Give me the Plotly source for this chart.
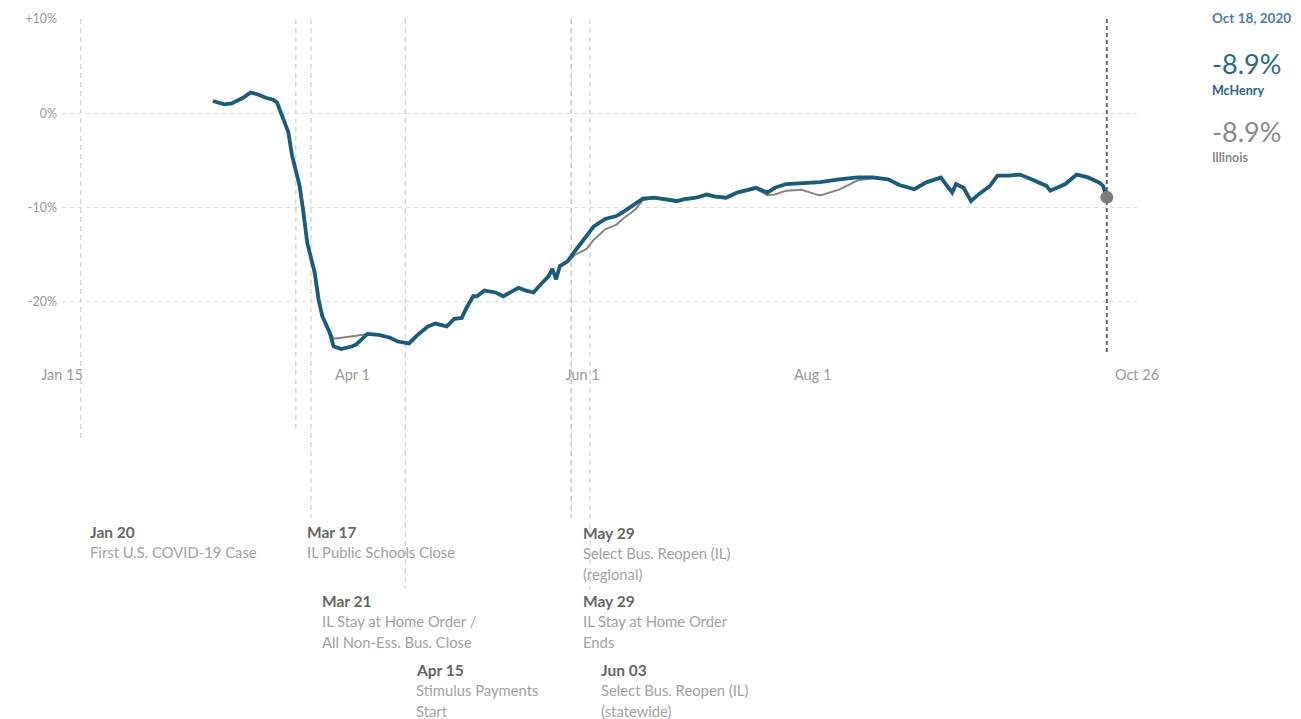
import plotly.graph_objects as go

# ---------------- data ----------------
dates = ['2020-02-24','2020-02-27','2020-02-29',
 '2020-03-03','2020-03-05','2020-03-07','2020-03-09','2020-03-11','2020-03-12','2020-03-13','2020-03-15','2020-03-16','2020-03-18','2020-03-19','2020-03-20','2020-03-22','2020-03-23','2020-03-24','2020-03-26','2020-03-27','2020-03-29',
 '2020-04-01','2020-04-02','2020-04-05','2020-04-08','2020-04-11','2020-04-13','2020-04-16','2020-04-18','2020-04-21','2020-04-23','2020-04-26','2020-04-28','2020-04-30',
 '2020-05-01','2020-05-03','2020-05-04','2020-05-06','2020-05-09','2020-05-11','2020-05-13','2020-05-15','2020-05-17','2020-05-19','2020-05-21','2020-05-23','2020-05-24','2020-05-25','2020-05-26','2020-05-28','2020-05-30',
 '2020-06-02','2020-06-04','2020-06-07','2020-06-10','2020-06-12','2020-06-15','2020-06-17','2020-06-20','2020-06-23','2020-06-26','2020-06-28',
 '2020-07-01','2020-07-04','2020-07-06','2020-07-09','2020-07-12','2020-07-14','2020-07-17','2020-07-20','2020-07-22','2020-07-25','2020-07-29',
 '2020-08-02','2020-08-03','2020-08-08','2020-08-13','2020-08-17','2020-08-21','2020-08-24','2020-08-28','2020-08-31',
 '2020-09-04','2020-09-05','2020-09-07','2020-09-08','2020-09-10','2020-09-12','2020-09-14','2020-09-17','2020-09-19','2020-09-22','2020-09-25','2020-09-28',
 '2020-10-02','2020-10-03','2020-10-07','2020-10-10','2020-10-13','2020-10-16','2020-10-17','2020-10-18']

mchenry = [1.3,0.95,1.05,
 1.65,2.2,2.0,1.65,1.45,1.15,0.1,-2.0,-4.5,-7.7,-10.5,-13.7,-16.9,-19.7,-21.5,-23.3,-24.7,-25.0,
 -24.7,-24.5,-23.4,-23.5,-23.8,-24.2,-24.4,-23.6,-22.6,-22.3,-22.6,-21.8,-21.7,
 -20.8,-19.4,-19.4,-18.8,-19.0,-19.4,-19.0,-18.5,-18.8,-19.0,-18.1,-17.3,-16.5,-17.6,-16.2,-15.7,-14.6,
 -13.1,-12.0,-11.2,-10.9,-10.4,-9.65,-9.05,-8.95,-9.1,-9.3,-9.1,
 -8.95,-8.6,-8.8,-8.95,-8.4,-8.2,-7.9,-8.4,-7.9,-7.5,-7.4,
 -7.35,-7.3,-7.0,-6.8,-6.8,-7.0,-7.6,-8.05,-7.35,
 -6.8,-7.35,-8.4,-7.5,-7.9,-9.3,-8.6,-7.7,-6.6,-6.6,-6.5,-7.0,
 -7.7,-8.2,-7.5,-6.5,-6.8,-7.35,-7.7,-8.9]

illinois = [1.3,0.95,1.05,
 1.65,2.2,2.0,1.65,1.45,1.15,0.1,-2.0,-4.5,-7.7,-10.5,-13.7,-16.9,-19.7,-21.5,-23.1,-23.9,-23.8,
 -23.7,-23.6,-23.4,-23.5,-23.8,-24.2,-24.4,-23.6,-22.6,-22.3,-22.6,-21.8,-21.7,
 -20.8,-19.4,-19.4,-18.8,-19.0,-19.4,-19.0,-18.5,-18.8,-19.0,-18.1,-17.3,-16.6,-17.6,-16.3,-15.8,-15.0,
 -14.4,-13.4,-12.3,-11.8,-11.1,-10.2,-9.2,-9.0,-9.2,-9.4,-9.2,
 -9.0,-8.7,-8.9,-9.0,-8.5,-8.3,-8.0,-8.7,-8.6,-8.2,-8.1,
 -8.6,-8.7,-8.1,-7.1,-6.9,-7.0,-7.6,-8.05,-7.35,
 -6.8,-7.3,-8.2,-7.6,-7.9,-9.3,-8.6,-7.7,-6.6,-6.6,-6.5,-7.0,
 -7.7,-8.2,-7.5,-6.5,-6.8,-7.35,-7.7,-8.9]

latest_date = '2020-10-18'
latest_label = 'Oct 18, 2020'
latest_mchenry = '-8.9%'
latest_illinois = '-8.9%'

x_tick_vals = ['2020-01-15', '2020-04-01', '2020-06-01', '2020-08-01', '2020-10-26']
x_tick_text = ['Jan 15', 'Apr 1', 'Jun 1', 'Aug 1', 'Oct 26']
y_tick_vals = [10, 0, -10, -20]
y_tick_text = ['+10%', '0%', '-10%', '-20%']

event_dates = ['2020-01-20', '2020-03-17', '2020-03-21', '2020-04-15', '2020-05-29', '2020-05-29', '2020-06-03']
event_titles = ['Jan 20', 'Mar 17', 'Mar 21', 'Apr 15', 'May 29', 'May 29', 'Jun 03']
event_texts = [['First U.S. COVID-19 Case'],
               ['IL Public Schools Close'],
               ['IL Stay at Home Order /', 'All Non-Ess. Bus. Close'],
               ['Stimulus Payments', 'Start'],
               ['Select Bus. Reopen (IL)', '(regional)'],
               ['IL Stay at Home Order', 'Ends'],
               ['Select Bus. Reopen (IL)', '(statewide)']]

# ---------------- layout helpers (page pixels) ----------------
W, H = 1301, 719
PLOT_L, PLOT_R, PLOT_T, PLOT_B = 62, 1137, 19, 362
ML, MT = PLOT_L, PLOT_T
MR, MB = W - PLOT_R, H - PLOT_B
PW = PLOT_R - PLOT_L
PH = PLOT_B - PLOT_T

def pyp(p):
    return (PLOT_B - p) / PH

def pxp(p):
    return (p - PLOT_L) / PW

event_line_end = [438, 433, 518, 588, 518, 518, 590]
event_head_y = [532, 532, 601, 670, 533, 601, 670]
event_xshift = [7, 9, 9, 9, 10, 10, 9]

FONT = 'Lato'
BLUE = '#1b5b7b'
GRAY = '#8a8482'

fig = go.Figure()

fig.add_trace(go.Scatter(x=dates, y=illinois, mode='lines', name='Illinois',
                         line=dict(color=GRAY, width=2), hoverinfo='skip'))
fig.add_trace(go.Scatter(x=dates, y=mchenry, mode='lines', name='McHenry',
                         line=dict(color=BLUE, width=3.8), hoverinfo='skip'))
fig.add_trace(go.Scatter(x=[latest_date], y=[mchenry[-1]], mode='markers',
                         marker=dict(color='#7d7d7d', size=13), hoverinfo='skip'))

shapes = []
for d, yend in zip(event_dates, event_line_end):
    shapes.append(dict(type='line', xref='x', yref='paper', x0=d, x1=d,
                       y0=1, y1=pyp(yend), layer='below',
                       line=dict(color='#c4c4c4', width=1, dash='5px,4px')))
shapes.append(dict(type='line', xref='x', yref='paper', x0=latest_date, x1=latest_date,
                   y0=1, y1=pyp(355), layer='below',
                   line=dict(color='#6a6a6a', width=2, dash='4px,3px')))

annotations = []
for d, title, lines, hy, xs in zip(event_dates, event_titles, event_texts, event_head_y, event_xshift):
    annotations.append(dict(x=d, xref='x', y=pyp(hy), yref='paper', text='<b>' + title + '</b>',
                            xanchor='left', yanchor='middle', xshift=xs, showarrow=False,
                            font=dict(family=FONT, size=15.5, color='#666666')))
    for i, t in enumerate(lines):
        annotations.append(dict(x=d, xref='x', y=pyp(hy + 20 + 21 * i), yref='paper', text=t,
                                xanchor='left', yanchor='middle', xshift=xs, showarrow=False,
                                font=dict(family=FONT, size=14.8, color='#a2a2a2')))

RX = pxp(1210)
annotations += [
    dict(x=RX, xref='paper', y=pyp(18), yref='paper', text='<b>' + latest_label + '</b>',
         xanchor='left', yanchor='middle', showarrow=False,
         font=dict(family=FONT, size=13.5, color='#4d7f9d')),
    dict(x=RX, xref='paper', y=pyp(64), yref='paper', text=latest_mchenry,
         xanchor='left', yanchor='middle', showarrow=False,
         font=dict(family=FONT, size=27, color='#2b6789')),
    dict(x=RX, xref='paper', y=pyp(90), yref='paper', text='<b>McHenry</b>',
         xanchor='left', yanchor='middle', showarrow=False,
         font=dict(family=FONT, size=12.5, color='#2b6789')),
    dict(x=RX, xref='paper', y=pyp(131), yref='paper', text=latest_illinois,
         xanchor='left', yanchor='middle', showarrow=False,
         font=dict(family=FONT, size=27, color='#8a8a8a')),
    dict(x=RX, xref='paper', y=pyp(157), yref='paper', text='<b>Illinois</b>',
         xanchor='left', yanchor='middle', showarrow=False,
         font=dict(family=FONT, size=12.5, color='#8a8a8a')),
]

fig.update_layout(
    width=W, height=H,
    margin=dict(l=ML, r=MR, t=MT, b=MB, pad=0),
    paper_bgcolor='white', plot_bgcolor='white',
    showlegend=False,
    shapes=shapes, annotations=annotations,
    font=dict(family=FONT, color='#999999', size=12),
    xaxis=dict(type='date', range=['2020-01-15', '2020-10-26'],
               tickvals=x_tick_vals, ticktext=x_tick_text,
               showgrid=False, zeroline=False, showline=False, ticks='',
               ticklabelstandoff=2,
               tickfont=dict(family=FONT, size=14.5, color='#9a9a9a')),
    yaxis=dict(range=[10 - PH / 9.43, 10], tickvals=y_tick_vals, ticktext=y_tick_text,
               showgrid=True, gridcolor='#dcdcdc', griddash='4px,4px', gridwidth=1,
               zeroline=False, showline=False, ticks='', ticklabelstandoff=4,
               tickfont=dict(family=FONT, size=12.5, color='#9a9a9a')),
)

fig.write_html('out.html', config={'displayModeBar': False},
               post_script="document.body.style.margin='0';document.body.style.overflow='hidden';")
